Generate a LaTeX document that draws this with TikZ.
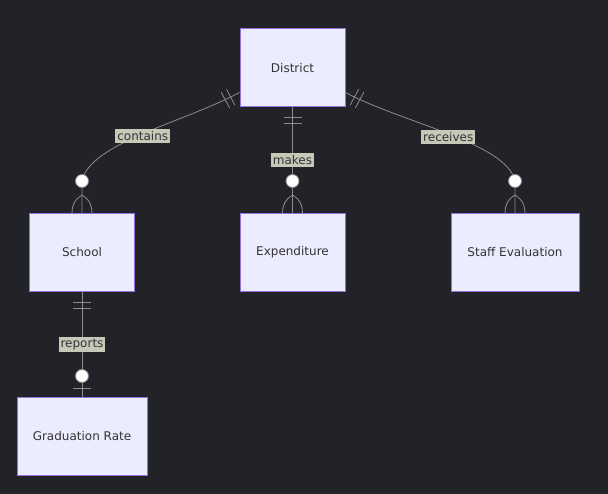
\documentclass[tikz,border=0pt]{standalone}
\usepackage{fontspec}
\setmainfont{DejaVu Sans}
\usetikzlibrary{calc}

\definecolor{bgcol}{HTML}{212328}
\definecolor{erfill}{HTML}{ECECFF}
\definecolor{erline}{HTML}{9370DB}
\definecolor{ertext}{HTML}{333333}
\definecolor{edgecol}{HTML}{8C8C8C}
\definecolor{lblfill}{HTML}{C5C9B8}

\begin{document}
\begin{tikzpicture}[x=1pt,y=-1pt,
    entity/.style={draw=erline, fill=erfill, line width=1pt, minimum width=105pt,
        minimum height=78pt, text=ertext, font=\fontsize{12}{14}\selectfont},
    rel/.style={draw=edgecol, line width=0.8pt},
    lbl/.style={fill=lblfill, text=ertext, inner xsep=2pt, inner ysep=2.5pt,
        font=\fontsize{12}{14}\selectfont}]
    % background
    \fill[bgcol] (0,0) rectangle (608,494);

    % Entities
    \node[entity] (district) at (292.5,68) {District};
    \node[entity] (school) at (82,252.5) {School};
    \node[entity] (expend) at (292.5,252.5) {Expenditure};
    \node[entity, minimum width=128pt] (staff) at (515,252.5) {Staff Evaluation};
    \node[entity, minimum width=130pt] (grad) at (82,436.5) {Graduation Rate};

    % Edge end points
    \coordinate (dl) at ($(district.south west)+(0,-15)$);
    \coordinate (dr) at ($(district.south east)+(0,-15)$);
    \coordinate (sc) at ($(school.north)+(0,-32)$);
    \coordinate (ec) at ($(expend.north)+(0,-32)$);
    \coordinate (tc) at ($(staff.north)+(0,-32)$);
    \coordinate (gc) at ($(grad.north)+(0,-21)$);

    % Relationships
    \draw[rel] (dl) .. controls +(-56,30) and +(8,-38) .. (sc) node[lbl,pos=0.5,yshift=-2pt] {contains} -- (school.north);
    \draw[rel] (district.south) -- (expend.north) node[lbl,midway] {makes};
    \draw[rel] (dr) .. controls +(56,30) and +(-8,-38) .. (tc) node[lbl,pos=0.5,yshift=-3pt] {receives} -- (staff.north);
    \draw[rel] (school.south) -- (grad.north) node[lbl,midway] {reports};

    % Exactly one (district side)
    \foreach \d in {10pt,16pt} {
        \coordinate (m) at ($(dl)!\d!(184,122)$);
        \draw[rel] ($(m)!9pt!90:(dl)$) -- ($(m)!9pt!-90:(dl)$);
        \coordinate (m) at ($(dr)!\d!(401,122)$);
        \draw[rel] ($(m)!9pt!90:(dr)$) -- ($(m)!9pt!-90:(dr)$);
    }
    \foreach \n/\y in {district/10, district/16, school/10, school/16} {
        \draw[rel] ($(\n.south)+(-9,\y)$) -- ($(\n.south)+(9,\y)$);
    }
    \draw[rel] ($(grad.north)+(-9,-9)$) -- ($(grad.north)+(9,-9)$);

    % Zero or many
    \foreach \n in {school,expend,staff} {
        \draw[rel] ($(\n.north)+(0,-18)$) .. controls +(-8,5) and +(0,-7) .. ($(\n.north)+(-10,0)$);
        \draw[rel] ($(\n.north)+(0,-18)$) .. controls +(8,5) and +(0,-7) .. ($(\n.north)+(10,0)$);
    }
    \foreach \c in {sc,ec,tc,gc} {
        \draw[rel, fill=white] (\c) circle (6.5pt);
    }
\end{tikzpicture}
\end{document}
